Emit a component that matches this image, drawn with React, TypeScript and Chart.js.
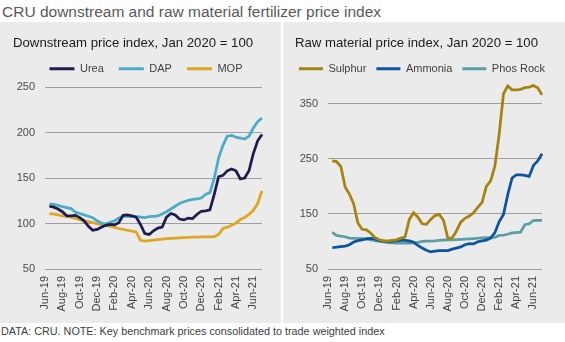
import React, { useEffect, useRef } from 'react';
import { Chart, registerables } from 'chart.js';

Chart.register(...registerables);

// ---- data ----
const periods = [
  '2019-06-16', '2019-07-01', '2019-07-16', '2019-08-01', '2019-08-16', '2019-09-01', '2019-09-16', '2019-10-01',
  '2019-10-16', '2019-11-01', '2019-11-16', '2019-12-01', '2019-12-16', '2020-01-01', '2020-01-16', '2020-02-01',
  '2020-02-16', '2020-03-01', '2020-03-16', '2020-04-01', '2020-04-16', '2020-05-01', '2020-05-16', '2020-06-01',
  '2020-06-16', '2020-07-01', '2020-07-16', '2020-08-01', '2020-08-16', '2020-09-01', '2020-09-16', '2020-10-01',
  '2020-10-16', '2020-11-01', '2020-11-16', '2020-12-01', '2020-12-16', '2021-01-01', '2021-01-16', '2021-02-01',
  '2021-02-16', '2021-03-01', '2021-03-16', '2021-04-01', '2021-04-16', '2021-05-01', '2021-05-16', '2021-06-01',
  '2021-06-16', '2021-07-01',
];

const tickLabels = [
  'Jun-19', 'Aug-19', 'Oct-19', 'Dec-19', 'Feb-20', 'Apr-20', 'Jun-20',
  'Aug-20', 'Oct-20', 'Dec-20', 'Feb-21', 'Apr-21', 'Jun-21',
];

const urea = [
  119, 118, 116, 113, 108.5, 108.5, 109, 106.5, 103, 97,
  92.6, 93.5, 96, 98, 99, 98.5, 101, 109, 109.5, 108.5,
  107, 99, 89, 88, 92, 95, 96, 107, 111, 109.5,
  105, 104, 106, 105.5, 110, 113.5, 114, 115, 132, 151.5,
  153, 158, 160, 158, 149, 150, 158, 177, 191, 198,
];
const dap = [
  121.5, 121, 120, 118.5, 117.5, 116.5, 112.5, 111, 109.5, 108,
  106.5, 103, 100.5, 99.5, 101.5, 103, 106, 108, 108, 107.5,
  107.5, 107, 106.5, 107.5, 108, 108.5, 110.5, 113, 116, 119,
  122, 124, 125.5, 126.5, 127, 128, 132, 134, 150, 172,
  186, 196, 197, 195, 194, 193, 196, 205, 212, 216,
];
const mop = [
  110.5, 110.5, 109.5, 108.5, 107.8, 107, 105.5, 104.2, 103, 102,
  101, 99.8, 98.8, 98, 97.2, 95.8, 94.5, 93.5, 92.6, 91.6,
  90.7, 81.5, 80.8, 81.3, 81.8, 82.3, 82.8, 83.3, 83.6, 84,
  84.3, 84.6, 84.8, 85, 85.1, 85.2, 85.2, 85.2, 85.5, 88,
  94.5, 96, 98, 100.5, 104.5, 106.7, 110, 114.5, 122, 136,
];
const sulphur = [
  246, 245, 236, 199, 186, 168, 133, 122, 121, 115,
  107, 103, 101, 101, 102, 103, 106, 108, 140, 152,
  144, 132, 131, 140, 147, 149, 138, 106, 106, 119,
  135, 142, 146, 152, 162, 171, 200, 210, 237, 295,
  368, 382, 375, 375, 376, 379, 380, 383, 379, 366,
];
const ammonia = [
  89, 89.5, 90.5, 91.5, 94, 99, 101.5, 103, 105, 105.5,
  104.5, 101.5, 100.5, 100, 100, 101, 102, 102, 101, 98.5,
  93, 88, 84, 81, 82.5, 83.5, 83.5, 83.5, 86, 88,
  90, 94, 96, 95.5, 99.5, 101, 102.5, 106, 116, 136,
  149, 185, 215, 221, 221, 220, 218, 238, 246, 259,
];
const phosRock = [
  116.5, 111, 109.5, 108.5, 106, 105.5, 105.5, 105, 104, 103,
  101.5, 100, 99, 98, 97.5, 97, 97, 97, 97, 97.5,
  98.5, 100, 100.5, 100.8, 101.2, 101.8, 102.2, 102.7, 103, 103.4,
  103.8, 104.3, 104.8, 105.3, 105.8, 106.3, 106.8, 107, 107.5, 111,
  111.5, 113, 115.5, 116.2, 116.8, 130.5, 132, 138, 138.4, 138.4,
];

const leftTicks = [50, 100, 150, 200, 250];
const rightTicks = [50, 150, 250, 350];

// ---- helpers ----
const FONT = "'Liberation Sans', Arial, Helvetica, sans-serif";
const MONTHS = ['Jan', 'Feb', 'Mar', 'Apr', 'May', 'Jun', 'Jul', 'Aug', 'Sep', 'Oct', 'Nov', 'Dec'];
const monthPos = (d: string) => {
  const [y, m, day] = d.split('-').map(Number);
  return (y - 2019) * 12 + (m - 6) + (day - 1) / 30;
};
const labelPos = (l: string) => {
  const [mn, yy] = l.split('-');
  return (2000 + Number(yy) - 2019) * 12 + MONTHS.indexOf(mn) - 5;
};
const xs = periods.map(monthPos);

type Series = { label: string; data: number[]; color: string };
type Cfg = {
  title: string;
  series: Series[];
  yMax: number;
  yTicks: number[];
  leftPad: number;
  rightPad: number;
  boxWidth: number;
  itemPad: number;
  titleBottom: number;
  dx: number;
  dy: number;
};

function buildConfig(o: Cfg): any {
  const shift = {
    id: 'legendShift',
    afterLayout(chart: any) {
      const lg = chart.legend;
      if (!lg) return;
      lg.left += o.dx;
      lg.right += o.dx;
      lg.top += o.dy;
      lg.bottom += o.dy;
    },
  };
  const tickFont = { family: FONT, size: 11 };
  return {
    type: 'line',
    data: {
      datasets: o.series.map((s) => ({
        label: s.label,
        data: s.data.map((v, i) => ({ x: xs[i], y: v })),
        borderColor: s.color,
        backgroundColor: s.color,
        borderWidth: 2.75,
        pointRadius: 0,
        tension: 0,
        clip: false,
      })),
    },
    options: {
      responsive: false,
      animation: false,
      events: [],
      layout: { padding: { left: o.leftPad, right: 0, top: 0, bottom: 0 } },
      plugins: {
        title: {
          display: true,
          text: o.title,
          align: 'start',
          color: '#1a1a1a',
          font: { family: FONT, size: 13.2, weight: 'normal' },
          padding: { top: 13, bottom: o.titleBottom },
        },
        legend: {
          display: true,
          position: 'top',
          align: 'center',
          labels: {
            boxWidth: o.boxWidth,
            boxHeight: 3,
            padding: o.itemPad,
            color: '#404040',
            font: { family: FONT, size: 11 },
            generateLabels: (chart: any) =>
              Chart.defaults.plugins.legend.labels
                .generateLabels(chart)
                .map((l: any) => ({ ...l, fillStyle: l.strokeStyle, lineWidth: 0 })),
          },
        },
        tooltip: { enabled: false },
      },
      scales: {
        x: {
          type: 'linear',
          min: 0,
          max: 25,
          afterBuildTicks: (s: any) => {
            s.ticks = tickLabels.map((l) => ({ value: labelPos(l) }));
          },
          afterFit: (s: any) => {
            s.height = 54;
          },
          grid: { display: false, drawTicks: false },
          border: { display: false },
          ticks: {
            autoSkip: false,
            maxRotation: 90,
            minRotation: 90,
            padding: 7,
            color: '#404040',
            font: tickFont,
            callback: (_v: any, i: number) => tickLabels[i],
          },
        },
        y: {
          type: 'linear',
          min: 50,
          max: o.yMax,
          afterBuildTicks: (s: any) => {
            s.ticks = o.yTicks.map((v) => ({ value: v }));
          },
          afterFit: (s: any) => {
            s.width = 45 - o.leftPad;
          },
          grid: { color: '#a0a0a0', lineWidth: 1, drawTicks: false },
          border: { display: false },
          ticks: { padding: 10, color: '#4a4a4a', font: tickFont },
        },
        pad: {
          type: 'linear',
          position: 'right',
          display: true,
          grid: { display: false, drawTicks: false },
          border: { display: false },
          ticks: { display: false },
          afterFit: (s: any) => {
            s.width = o.rightPad;
          },
        },
      },
    },
    plugins: [shift],
  };
}

function ChartPanel({ left, width, cfg }: { left: number; width: number; cfg: Cfg }) {
  const ref = useRef<HTMLCanvasElement | null>(null);
  useEffect(() => {
    if (!ref.current) return;
    const chart = new Chart(ref.current, buildConfig(cfg));
    return () => chart.destroy();
  }, []);
  return (
    <div style={{ position: 'absolute', left, top: 22, width, height: 301, background: '#ebebeb' }}>
      <canvas ref={ref} width={width} height={301} style={{ display: 'block', width, height: 301 }} />
    </div>
  );
}

const leftCfg: Cfg = {
  title: 'Downstream price index, Jan 2020 = 100',
  series: [
    { label: 'Urea', data: urea, color: '#1e1b4e' },
    { label: 'DAP', data: dap, color: '#4bacc8' },
    { label: 'MOP', data: mop, color: '#dea622' },
  ],
  yMax: 250,
  yTicks: leftTicks,
  leftPad: 13,
  rightPad: 19,
  boxWidth: 25,
  itemPad: 15,
  titleBottom: 0.3,
  dx: -1,
  dy: -3,
};

const rightCfg: Cfg = {
  title: 'Raw material price index, Jan 2020 = 100',
  series: [
    { label: 'Sulphur', data: sulphur, color: '#a6830f' },
    { label: 'Ammonia', data: ammonia, color: '#0c53a0' },
    { label: 'Phos Rock', data: phosRock, color: '#5a9ea5' },
  ],
  yMax: 380,
  yTicks: rightTicks,
  leftPad: 12,
  rightPad: 23,
  boxWidth: 24,
  itemPad: 10,
  titleBottom: 5.3,
  dx: -8,
  dy: -3,
};

export default function App() {
  return (
    <div
      style={{
        position: 'fixed',
        left: 0,
        top: 0,
        width: 565,
        height: 342,
        background: '#ffffff',
        overflow: 'hidden',
        fontFamily: FONT,
      }}
    >
      <div
        style={{
          position: 'absolute',
          left: 2,
          top: 2,
          fontSize: 15.5,
          lineHeight: '20px',
          color: '#595959',
          whiteSpace: 'nowrap',
        }}
      >
        CRU downstream and raw material fertilizer price index
      </div>
      <ChartPanel left={0} width={281} cfg={leftCfg} />
      <ChartPanel left={283} width={282} cfg={rightCfg} />
      <div
        style={{
          position: 'absolute',
          left: 1,
          top: 324,
          fontSize: 10.8,
          lineHeight: '14px',
          color: '#404040',
          whiteSpace: 'nowrap',
        }}
      >
        DATA: CRU. NOTE: Key benchmark prices consolidated to trade weighted index
      </div>
    </div>
  );
}
